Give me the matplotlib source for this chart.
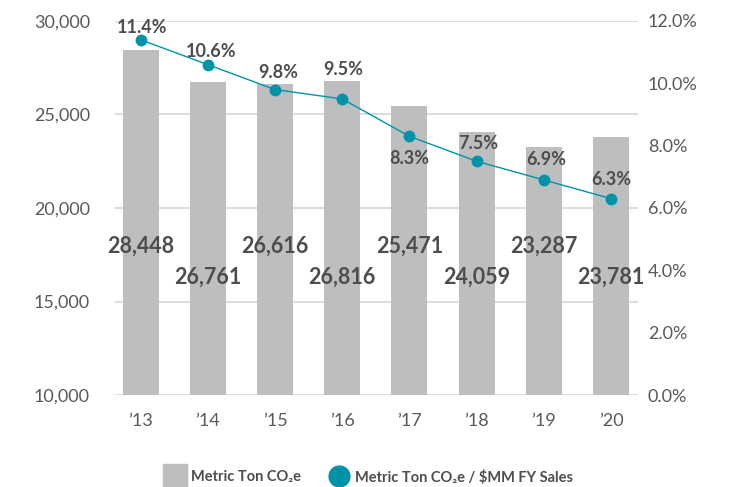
import matplotlib.pyplot as plt
from matplotlib.lines import Line2D
from matplotlib.ticker import FuncFormatter

plt.rcParams['font.family'] = ['Lato', 'DejaVu Sans']

# --- Data ---
years = ['\u201913', '\u201914', '\u201915', '\u201916', '\u201917', '\u201918', '\u201919', '\u201920']
tons = [28448, 26761, 26616, 26816, 25471, 24059, 23287, 23781]
intensity = [11.4, 10.6, 9.8, 9.5, 8.3, 7.5, 6.9, 6.3]

# --- Style ---
bar_color = '#bcbec0'
teal = '#0093a8'
label_color = '#4d4d4f'
tick_color = '#58595b'
grid_color = '#d6d6d6'

# label offsets (points) for the percentage annotations
pct_dx = [1, 2.5, 2, 1, 0, 1.2, 2, 0.5]
pct_dy = [9, 9.5, 12.5, 21, -16, 13, 15, 13.5]

fig = plt.figure(figsize=(7.39, 4.87), dpi=100)
ax = fig.add_axes([115 / 739, 1 - 395 / 487, (638 - 115) / 739, (395 - 21) / 487])
ax2 = ax.twinx()

x = list(range(len(years)))

# bars on the left axis
ax.bar(x, tons, width=0.535, color=bar_color, zorder=2)
ax.set_ylim(10000, 30000)
ax.set_yticks([10000, 15000, 20000, 25000, 30000])
ax.yaxis.set_major_formatter(FuncFormatter(lambda v, p: f'{int(v):,}'))
ax.set_xlim(-0.38, 7.40)
ax.set_xticks(x)
ax.set_xticklabels(years)
ax.grid(axis='y', color=grid_color, linewidth=1.2, zorder=0)
ax.set_axisbelow(True)
ax.tick_params(axis='y', length=0, pad=18, labelsize=13, labelcolor=tick_color)
ax.tick_params(axis='x', length=0, pad=13, labelsize=13, labelcolor=tick_color)
for s in ax.spines.values():
    s.set_visible(False)

# bar value labels, staggered high/low
for i, v in enumerate(tons):
    ly = 17950 if i % 2 == 0 else 16300
    ax.text(i, ly, f'{v:,}', ha='center', va='center', fontsize=15.5,
            fontweight='bold', color=label_color, zorder=4)

# intensity line on the right axis
ax2.plot(x, intensity, color=teal, linewidth=1.0, marker='o', markersize=7.5, zorder=3)
ax2.set_ylim(0, 12)
ax2.set_yticks([0, 2, 4, 6, 8, 10, 12])
ax2.yaxis.set_major_formatter(FuncFormatter(lambda v, p: f'{v:.1f}%'))
ax2.tick_params(axis='y', length=0, pad=7, labelsize=13, labelcolor=tick_color)
for s in ax2.spines.values():
    s.set_visible(False)

for i, v in enumerate(intensity):
    ax2.annotate(f'{v}%', (i, v), xytext=(pct_dx[i], pct_dy[i]), textcoords='offset points',
                 ha='center', va='center', fontsize=13, fontweight='bold', color=label_color)

# legend
handles = [
    Line2D([], [], linestyle='none', marker='s', markersize=17.5, color=bar_color),
    Line2D([], [], linestyle='none', marker='o', markersize=15, color=teal),
]
labels = ['Metric Ton CO\u2082e', 'Metric Ton CO\u2082e / $MM FY Sales']
fig.legend(handles, labels, loc='center', bbox_to_anchor=(0.5, 1 - 477 / 487), ncol=2,
           frameon=False, prop={'size': 10.5, 'weight': 'bold'}, labelcolor=label_color,
           handletextpad=0.5, columnspacing=2.0, handlelength=1.2)

fig.savefig('out.png', dpi=100)
